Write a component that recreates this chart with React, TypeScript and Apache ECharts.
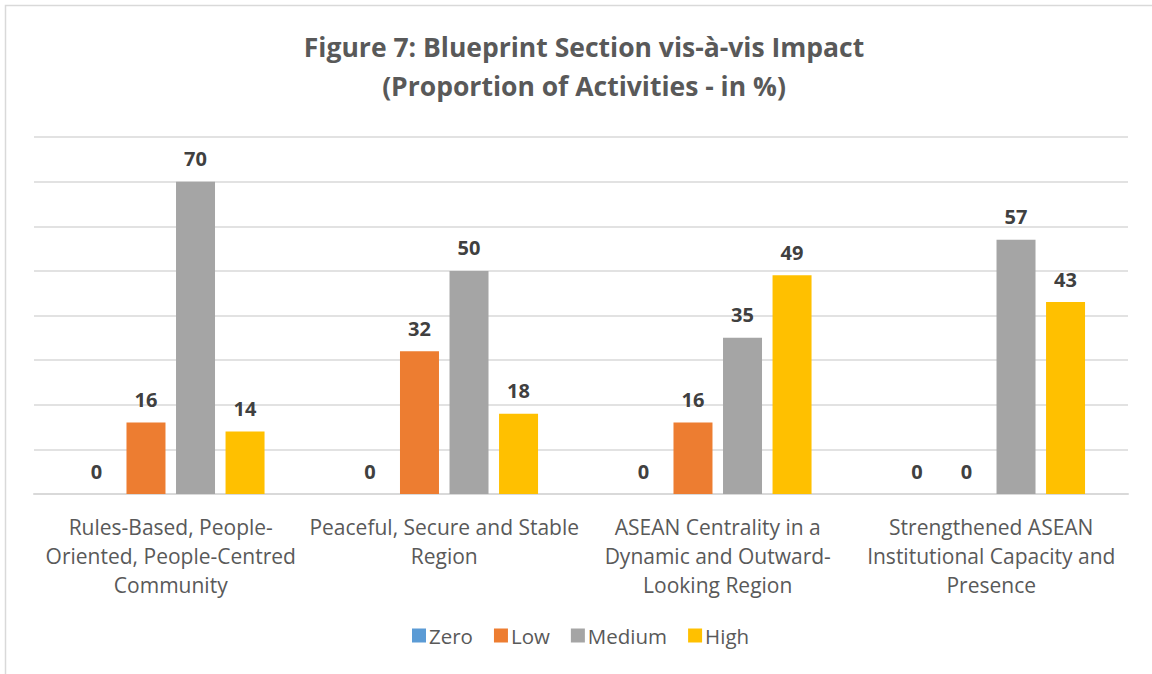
import React, { useEffect, useRef } from "react";
import * as echarts from "echarts";

const categories = [
  "Rules-Based, People-\nOriented, People-Centred\nCommunity",
  "Peaceful, Secure and Stable\nRegion",
  "ASEAN Centrality in a\nDynamic and Outward-\nLooking Region",
  "Strengthened ASEAN\nInstitutional Capacity and\nPresence",
];
const seriesNames = ["Zero", "Low", "Medium", "High"];
const zeroValues = [0, 0, 0, 0];
const lowValues = [16, 32, 16, 0];
const mediumValues = [70, 50, 35, 57];
const highValues = [14, 18, 49, 43];
const colors = ["#5B9BD5", "#ED7D31", "#A5A5A5", "#FFC000"];
const FONT = "'Open Sans', Lato, sans-serif";

export default function App() {
  const ref = useRef<HTMLDivElement>(null);
  useEffect(() => {
    document.body.style.margin = "0";
    const chart = echarts.init(ref.current!, null, { renderer: "svg" });
    const values = [zeroValues, lowValues, mediumValues, highValues];
    chart.setOption({
      animation: false,
      backgroundColor: "#ffffff",
      textStyle: { fontFamily: FONT },
      title: {
        text: "Figure 7: Blueprint Section vis-à-vis Impact\n(Proportion of Activities - in %)",
        left: 579,
        textAlign: "center",
        top: 22,
        textStyle: {
          fontFamily: FONT,
          fontSize: 26.5,
          fontWeight: "bold",
          color: "#595959",
          lineHeight: 39,
        },
      },
      graphic: [
        {
          type: "rect",
          shape: { x: 5.5, y: 5.5, width: 1200, height: 720 },
          style: { fill: "none", stroke: "#d9d9d9", lineWidth: 1.5 },
          silent: true,
        },
      ],
      legend: {
        data: seriesNames,
        bottom: 28,
        left: 412,
        padding: 0,
        itemWidth: 14,
        itemHeight: 14,
        itemGap: 21,
        icon: "rect",
        textStyle: { fontFamily: FONT, fontSize: 20.5, color: "#595959", padding: [0, 0, 0, -2] },
      },
      grid: { left: 34, right: 24, top: 137, bottom: 180 },
      xAxis: {
        type: "category",
        data: categories,
        axisLine: { lineStyle: { color: "#d9d9d9", width: 2 } },
        axisTick: { show: false },
        axisLabel: {
          interval: 0,
          margin: 18,
          fontFamily: FONT,
          fontSize: 21,
          color: "#595959",
          lineHeight: 29,
        },
      },
      yAxis: {
        type: "value",
        min: 0,
        max: 80,
        interval: 10,
        axisLabel: { show: false },
        axisLine: { show: false },
        axisTick: { show: false },
        splitLine: { lineStyle: { color: "#d9d9d9", width: 1.5 } },
      },
      series: seriesNames.map((name, i) => ({
        name,
        type: "bar",
        data: values[i],
        barWidth: 39,
        barGap: "27%",
        itemStyle: { color: colors[i] },
        label: {
          show: true,
          position: "top",
          distance: 13,
          fontFamily: FONT,
          fontSize: 20,
          fontWeight: "bold",
          color: "#404040",
        },
      })),
    });
    return () => chart.dispose();
  }, []);
  return <div ref={ref} style={{ width: 1152, height: 674 }} />;
}
